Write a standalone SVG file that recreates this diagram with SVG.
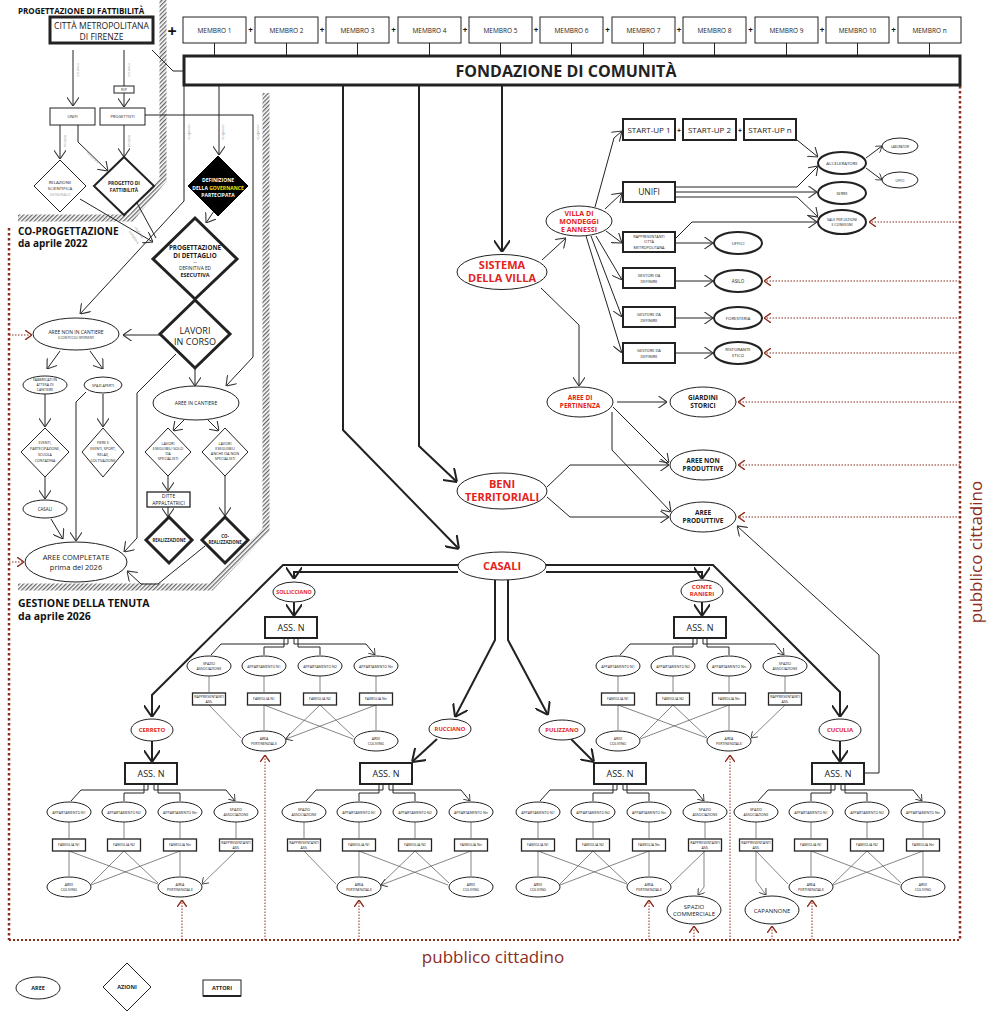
<svg xmlns="http://www.w3.org/2000/svg" width="987" height="1011" viewBox="0 0 987 1011">
<style>
.n{fill:#fff;stroke:#222;stroke-width:1}
.nb{stroke-width:2}
.nt{stroke-width:3}
.t{font-family:"Open Sans","Liberation Sans",sans-serif;text-anchor:middle;fill:#222}
.b{font-weight:bold}
.r{fill:#e3231b;font-weight:bold}
.s{font-size:3.6px}
.g{font-family:"Open Sans","Liberation Sans",sans-serif;font-size:3.6px;fill:#999;text-anchor:middle}
.c{fill:none;stroke:#222;stroke-width:1}
.c2{fill:none;stroke:#222;stroke-width:2}
.cg{fill:none;stroke:#666;stroke-width:0.8}
.rd{fill:none;stroke:#8c2d1c;stroke-width:1;stroke-dasharray:1.5 1.5}
.rb{fill:none;stroke:#8c2d1c;stroke-width:2.5;stroke-dasharray:2.5 2.5}
.h{fill:none;stroke:url(#hatch);stroke-width:7}
.hd{font-family:"Open Sans","Liberation Sans",sans-serif;font-weight:bold;fill:#111}
</style>
<defs>
<pattern id="hatch" patternUnits="userSpaceOnUse" width="3" height="3" patternTransform="rotate(45)"><rect x="0" y="0" width="1.3" height="3" fill="#666"/></pattern>
<marker id="aS" viewBox="0 0 10 14" refX="10" refY="7" markerWidth="6" markerHeight="8.4" markerUnits="userSpaceOnUse" orient="auto"><path d="M0,0 L10,7 L0,14" fill="none" stroke="#333" stroke-width="1.4"/></marker>
<marker id="aM" viewBox="0 0 10 14" refX="10" refY="7" markerWidth="9" markerHeight="12.6" markerUnits="userSpaceOnUse" orient="auto"><path d="M0,0 L10,7 L0,14" fill="none" stroke="#333" stroke-width="1.2"/></marker>
<marker id="aL" viewBox="0 0 10 14" refX="10" refY="7" markerWidth="12" markerHeight="16.8" markerUnits="userSpaceOnUse" orient="auto"><path d="M0,0 L10,7 L0,14" fill="none" stroke="#222" stroke-width="1.7"/></marker>
<marker id="aR" viewBox="0 0 10 14" refX="10" refY="7" markerWidth="7" markerHeight="9.8" markerUnits="userSpaceOnUse" orient="auto"><path d="M0,0 L10,7 L0,14" fill="none" stroke="#8c2d1c" stroke-width="2"/></marker>
</defs>
<rect width="987" height="1011" fill="#fff"/>

<g id="walls">
<path class="h" d="M163 0 V180 L131 218 H18"/>
<path class="h" d="M266 93 V530 L211 587 H18"/>
</g>

<g id="titles">
<text class="hd" x="18" y="14" font-size="8">PROGETTAZIONE DI FATTIBILITÀ</text>
<text class="hd" x="18" y="235" font-size="10">CO-PROGETTAZIONE</text>
<text class="hd" x="18" y="247" font-size="10">da aprile 2022</text>
<text class="hd" x="18" y="607" font-size="10.5">GESTIONE DELLA TENUTA</text>
<text class="hd" x="18" y="620" font-size="10.5">da aprile 2026</text>
</g>

<g id="pubblico">
<path class="rb" d="M960 86 V940"/>
<path class="rb" d="M9 228 V940"/>
<path class="rd" style="stroke-width:2;stroke-dasharray:2 2" d="M9 940 H960"/>
<text x="493" y="963" font-family="'Open Sans','Liberation Sans',sans-serif" font-size="17" fill="#8c2d1c" text-anchor="middle">pubblico cittadino</text>
<text transform="translate(982,552) rotate(-90)" font-family="'Open Sans','Liberation Sans',sans-serif" font-size="17" fill="#8c2d1c" text-anchor="middle">pubblico cittadino</text>
</g>

<g id="connectors">
<path class="c" d="M214.5 43V56M286.5 43V56M357.5 43V56M429.5 43V56M500.5 43V56M571.5 43V56M643.5 43V56M714.5 43V56M786.5 43V56M857.5 43V56M929.5 43V56"/>
<path class="c" d="M152 50 L173 71 H184"/>
<path class="c" d="M73 50 V106" marker-end="url(#aM)"/>
<path class="c" d="M124 50 V86"/>
<path class="c" d="M124 93 V107" marker-end="url(#aM)"/>
<path class="c" d="M60 125 V159" marker-end="url(#aM)"/>
<path class="c" d="M78 125 V142 L108 171" marker-end="url(#aM)"/>
<path class="c" d="M124 125 V157" marker-end="url(#aM)"/>
<path class="c" d="M145 115 H253 V357 L226 386" marker-end="url(#aM)"/>
<path class="c" d="M184 86 V201 L80 314" marker-end="url(#aM)"/>
<path class="c" d="M219 86 V155" marker-end="url(#aM)"/>
<path class="c" d="M216 208 L206 223" marker-end="url(#aM)"/>
<path class="c" d="M80 199 L153 242" marker-end="url(#aM)"/>
<path class="c" d="M137 203 L156 238"/>
<path class="c" d="M160 335 H123" marker-end="url(#aM)"/>
<path class="c" d="M195 368 V386" marker-end="url(#aM)"/>
<path class="c" d="M176 354 L137 393 V538 L124 552" marker-end="url(#aM)"/>
<path class="c" d="M60 351 L47 369" marker-end="url(#aM)"/>
<path class="c" d="M90 351 L103 369" marker-end="url(#aM)"/>
<path class="c" d="M45 394 V427" marker-end="url(#aM)"/>
<path class="c" d="M103 394 V427" marker-end="url(#aM)"/>
<path class="c" d="M86 392 L76 402 V541" marker-end="url(#aM)"/>
<path class="c" d="M45 477 V499" marker-end="url(#aM)"/>
<path class="c" d="M51 519 L63 539" marker-end="url(#aM)"/>
<path class="c" d="M184 420 L173 431" marker-end="url(#aM)"/>
<path class="c" d="M208 420 L219 431" marker-end="url(#aM)"/>
<path class="c" d="M168 476 V491" marker-end="url(#aM)"/>
<path class="c" d="M168 507 V517" marker-end="url(#aM)"/>
<path class="c" d="M225 476 V516" marker-end="url(#aM)"/>
<path class="c" d="M205 546 L158 584 H141 L127 571" marker-end="url(#aM)"/>
<path class="c2" d="M502 86 V252" marker-end="url(#aL)"/>
<path class="c2" d="M419 86 V446 L457 482" marker-end="url(#aL)"/>
<path class="c2" d="M343 86 V430 L459 549" marker-end="url(#aL)"/>
<path class="c" d="M542 260 L566 238" marker-end="url(#aM)"/>
<path class="c" d="M541 288 L579 325 V386" marker-end="url(#aM)"/>
<path class="c" d="M595 207 L614 138 L622 131" marker-end="url(#aM)"/>
<path class="c" d="M605 209 L622 193" marker-end="url(#aM)"/>
<path class="c" d="M606 231 L622 243" marker-end="url(#aM)"/>
<path class="c" d="M596 236 L622 280" marker-end="url(#aM)"/>
<path class="c" d="M591 236 L622 317" marker-end="url(#aM)"/>
<path class="c" d="M586 236 L622 353" marker-end="url(#aM)"/>
<path class="c" d="M797 140 L818 157" marker-end="url(#aM)"/>
<path class="c" d="M675 187 H797 L818 166" marker-end="url(#aM)"/>
<path class="c" d="M675 192 H817" marker-end="url(#aM)"/>
<path class="c" d="M675 197 H797 L818 217" marker-end="url(#aM)"/>
<path class="c" d="M676 238 L692 222 H817" marker-end="url(#aM)"/>
<path class="c" d="M866 158 L882 146" marker-end="url(#aS)"/>
<path class="c" d="M866 168 L882 180" marker-end="url(#aS)"/>
<path class="c" d="M675 243 H713" marker-end="url(#aM)"/>
<path class="c" d="M675 281 H713" marker-end="url(#aM)"/>
<path class="c" d="M675 318 H713" marker-end="url(#aM)"/>
<path class="c" d="M675 353 H713" marker-end="url(#aM)"/>
<path class="c" d="M617 402 H667" marker-end="url(#aM)"/>
<path class="c" d="M613 407 L669 463" marker-end="url(#aM)"/>
<path class="c" d="M612 412 V450 L671 512" marker-end="url(#aM)"/>
<path class="c" d="M547 487 L570 465 H669" marker-end="url(#aM)"/>
<path class="c" d="M547 497 L570 517 H669" marker-end="url(#aM)"/>
<path class="c2" d="M458 565 H283 L152 695 V717" marker-end="url(#aL)"/>
<path class="c2" d="M458 572 H294 V579" marker-end="url(#aL)"/>
<path class="c2" d="M546 565 H713 L840 692 V717" marker-end="url(#aL)"/>
<path class="c2" d="M546 572 H702 V579" marker-end="url(#aL)"/>
<path class="c2" d="M495 580 V640 L455 717" marker-end="url(#aL)"/>
<path class="c2" d="M508 580 V640 L548 715" marker-end="url(#aL)"/>
<path class="c2" d="M294 602 V616" marker-end="url(#aL)"/>
<path class="c2" d="M702 602 V616" marker-end="url(#aL)"/>
<path class="c2" d="M152 741 V762" marker-end="url(#aL)"/>
<path class="c2" d="M840 741 V762" marker-end="url(#aL)"/>
<path class="c2" d="M437 739 L412 762" marker-end="url(#aL)"/>
<path class="c2" d="M571 739 L594 762" marker-end="url(#aL)"/>
<path class="c" d="M864 773 H879 V655 L737 526" marker-end="url(#aM)"/>
<path class="rd" d="M960 222 H869" marker-end="url(#aR)"/>
<path class="rd" d="M960 281 H764" marker-end="url(#aR)"/>
<path class="rd" d="M960 318 H764" marker-end="url(#aR)"/>
<path class="rd" d="M960 353 H764" marker-end="url(#aR)"/>
<path class="rd" d="M960 402 H738" marker-end="url(#aR)"/>
<path class="rd" d="M960 465 H738" marker-end="url(#aR)"/>
<path class="rd" d="M960 517 H738" marker-end="url(#aR)"/>
<path class="rd" d="M9 335 H32" marker-end="url(#aR)"/>
<path class="rd" d="M9 562 H24" marker-end="url(#aR)"/>
<path class="rd" d="M265 940 V755" marker-end="url(#aR)"/>
<path class="rd" d="M730 940 V755" marker-end="url(#aR)"/>
<path class="rd" d="M182 940 V900" marker-end="url(#aR)"/>
<path class="rd" d="M359 940 V900" marker-end="url(#aR)"/>
<path class="rd" d="M649 940 V900" marker-end="url(#aR)"/>
<path class="rd" d="M694 940 V926" marker-end="url(#aR)"/>
<path class="rd" d="M772 940 V926" marker-end="url(#aR)"/>
<path class="rd" d="M812 940 V900" marker-end="url(#aR)"/>
<text class="g" transform="translate(77,70) rotate(90)">incarica</text>
<text class="g" transform="translate(128,70) rotate(90)">incarica</text>
<text class="g" transform="translate(64,141) rotate(90)">realizza</text>
<text class="g" transform="translate(128,141) rotate(90)">realizza</text>
<text class="g" transform="translate(92,158) rotate(44)">collabora</text>
<text class="g" transform="translate(188,132) rotate(90)">coordina</text>
<text class="g" transform="translate(222,132) rotate(90)">coordina</text>
<text class="g" transform="translate(257,132) rotate(90)">coordina</text>
<text class="g" transform="translate(138,233) rotate(55)">realizza</text>
<text class="g" transform="translate(133,238) rotate(55)">collabora</text>
</g>

<g id="citta"><rect class="n nt" x="50" y="17" width="103" height="26"/><text class="t" x="101.5" y="29" font-size="8.6">CITTÀ METROPOLITANA</text><text class="t" x="101.5" y="40" font-size="8.6">DI FIRENZE</text></g>
<text class="hd" x="172" y="37" font-size="16" text-anchor="middle">+</text>
<g id="membri">
<g id="m1"><rect class="n" x="183" y="17" width="63" height="26"/><text class="t" x="214.5" y="32.5" font-size="6.5">MEMBRO 1</text></g>
<g id="m2"><rect class="n" x="255" y="17" width="63" height="26"/><text class="t" x="286.5" y="32.5" font-size="6.5">MEMBRO 2</text></g>
<g id="m3"><rect class="n" x="326" y="17" width="63" height="26"/><text class="t" x="357.5" y="32.5" font-size="6.5">MEMBRO 3</text></g>
<g id="m4"><rect class="n" x="398" y="17" width="63" height="26"/><text class="t" x="429.5" y="32.5" font-size="6.5">MEMBRO 4</text></g>
<g id="m5"><rect class="n" x="469" y="17" width="63" height="26"/><text class="t" x="500.5" y="32.5" font-size="6.5">MEMBRO 5</text></g>
<g id="m6"><rect class="n" x="540" y="17" width="63" height="26"/><text class="t" x="571.5" y="32.5" font-size="6.5">MEMBRO 6</text></g>
<g id="m7"><rect class="n" x="612" y="17" width="63" height="26"/><text class="t" x="643.5" y="32.5" font-size="6.5">MEMBRO 7</text></g>
<g id="m8"><rect class="n" x="683" y="17" width="63" height="26"/><text class="t" x="714.5" y="32.5" font-size="6.5">MEMBRO 8</text></g>
<g id="m9"><rect class="n" x="755" y="17" width="63" height="26"/><text class="t" x="786.5" y="32.5" font-size="6.5">MEMBRO 9</text></g>
<g id="m10"><rect class="n" x="826" y="17" width="63" height="26"/><text class="t" x="857.5" y="32.5" font-size="6.5">MEMBRO 10</text></g>
<g id="mn"><rect class="n" x="898" y="17" width="63" height="26"/><text class="t" x="929.5" y="32.5" font-size="6.5">MEMBRO n</text></g>
<g class="hd" font-size="8" text-anchor="middle"><text x="250.5" y="33">+</text><text x="322" y="33">+</text><text x="393.5" y="33">+</text><text x="465" y="33">+</text><text x="536" y="33">+</text><text x="607.5" y="33">+</text><text x="679" y="33">+</text><text x="750.5" y="33">+</text><text x="822" y="33">+</text><text x="893.5" y="33">+</text></g>
</g>
<g id="fondazione"><rect class="n nt" x="184" y="56" width="776" height="29"/><text class="t b" x="566" y="77" font-size="16">FONDAZIONE DI COMUNITÀ</text></g>

<g id="rup"><rect class="n" x="114" y="86" width="20" height="7"/><text class="t" x="124" y="91" font-size="3">RUP</text></g>
<g id="unifi1"><rect class="n" x="50" y="108" width="45" height="17"/><text class="t" x="72.5" y="118" font-size="4">UNIFI</text></g>
<g id="progettisti"><rect class="n" x="100" y="108" width="45" height="17"/><text class="t" x="122.5" y="118" font-size="4">PROGETTISTI</text></g>
<g id="relazione"><path class="n" d="M60 160 L86 186 L60 212 L34 186Z"/><text class="t" x="60" y="184" font-size="4.3">RELAZIONE</text><text class="t" x="60" y="190" font-size="4.3">SCIENTIFICA</text><text class="t" x="60" y="196" font-size="4.3" style="fill:#aaa">GENERALE</text></g>
<g id="progetto"><path class="n nb" d="M124 157 L154 186 L124 215 L94 186Z"/><text class="t b" x="124" y="185" font-size="4.8">PROGETTO DI</text><text class="t b" x="124" y="192" font-size="4.8">FATTIBILITÀ</text></g>
<g id="governance"><path d="M218 156 L248 186 L218 216 L188 186Z" fill="#000" stroke="#000"/><text class="t b" x="218" y="182" font-size="5" style="fill:#fff">DEFINIZIONE</text><text class="t b" x="218" y="189.5" font-size="5" style="fill:#fff">DELLA <tspan style="fill:#f2e600">GOVERNANCE</tspan></text><text class="t b" x="218" y="196.5" font-size="5" style="fill:#fff">PARTECIPATA</text></g>
<g id="dettaglio"><path class="n nt" d="M195 218 L237 259 L195 299 L153 259Z"/><text class="t b" x="195" y="250" font-size="6.3">PROGETTAZIONE</text><text class="t b" x="195" y="258" font-size="6.3">DI DETTAGLIO</text><text class="t" x="195" y="263" font-size="4">—</text><text class="t" x="195" y="270" font-size="4.8">DEFINITIVA ED</text><text class="t b" x="195" y="277" font-size="5.5">ESECUTIVA</text></g>
<g id="lavori"><path class="n nt" d="M195 300 L230 334 L195 368 L160 334Z"/><text class="t" x="195" y="334" font-size="9">LAVORI</text><text class="t" x="195" y="345" font-size="9">IN CORSO</text></g>
<g id="areenon"><ellipse class="n" cx="76" cy="334" rx="43" ry="16"/><text class="t" x="76" y="334" font-size="5">AREE NON IN CANTIERE</text><text class="t" x="76" y="339" font-size="2.8">O CON PICCOLI INTERVENTI</text></g>
<g id="fabbricati"><ellipse class="n" cx="45" cy="385" rx="22" ry="9"/><text class="t" x="45" y="381" font-size="3.6">FABBRICATI IN</text><text class="t" x="45" y="386" font-size="3.6">ATTESA DI</text><text class="t" x="45" y="391" font-size="3.6">CANTIERE</text></g>
<g id="spaziaperti"><ellipse class="n" cx="103" cy="385" rx="19" ry="8"/><text class="t" x="103" y="387" font-size="3.6">SPAZI APERTI</text></g>
<g id="eventi"><path class="n" d="M45 428 L69 452 L45 477 L21 452Z"/><text class="t" x="45" y="444" font-size="3.6">EVENTI,</text><text class="t" x="45" y="450" font-size="3.6">PARTECIPAZIONE,</text><text class="t" x="45" y="456" font-size="3.6">SCUOLA</text><text class="t" x="45" y="462" font-size="3.6">CONTADINA</text></g>
<g id="fiere"><path class="n" d="M103 428 L124 452 L103 477 L82 452Z"/><text class="t" x="103" y="444" font-size="3.6">FIERE E</text><text class="t" x="103" y="450" font-size="3.6">EVENTI, SPORT,</text><text class="t" x="103" y="456" font-size="3.6">RELAX,</text><text class="t" x="103" y="462" font-size="3.6">COLTIVAZIONE</text></g>
<g id="casali-l"><ellipse class="n" cx="45" cy="509" rx="22" ry="9"/><text class="t" x="45" y="511" font-size="4.5">CASALI</text></g>
<g id="completate"><ellipse class="n" cx="76" cy="562" rx="51" ry="20"/><text class="t" x="76" y="560" font-size="7.5">AREE COMPLETATE</text><text class="t" x="76" y="570" font-size="7.5">prima del 2026</text></g>
<g id="areecantiere"><ellipse class="n" cx="196" cy="403" rx="43" ry="17"/><text class="t" x="196" y="405" font-size="5">AREE IN CANTIERE</text></g>
<g id="specialisti"><path class="n" d="M168 428 L191 452 L168 476 L145 452Z"/><text class="t" x="168" y="445" font-size="3.8">LAVORI</text><text class="t" x="168" y="450" font-size="3.8">ESEGUIBILI SOLO</text><text class="t" x="168" y="455" font-size="3.8">DA</text><text class="t" x="168" y="460" font-size="3.8">SPECIALISTI</text></g>
<g id="nonspecialisti"><path class="n" d="M225 428 L248 452 L225 476 L202 452Z"/><text class="t" x="225" y="445" font-size="3.8">LAVORI</text><text class="t" x="225" y="450" font-size="3.8">ESEGUIBILI</text><text class="t" x="225" y="455" font-size="3.8">ANCHE DA NON</text><text class="t" x="225" y="460" font-size="3.8">SPECIALISTI</text></g>
<g id="ditte"><rect class="n" x="147" y="492" width="43" height="15" style="stroke-width:1.3"/><text class="t" x="168.5" y="498" font-size="5">DITTE</text><text class="t" x="168.5" y="505" font-size="5">APPALTATRICI</text></g>
<g id="realizzazione"><path class="n nt" d="M169 517 L192 540 L169 563 L146 540Z"/><text class="t b" x="169" y="542" font-size="4.3">REALIZZAZIONE</text></g>
<g id="corealizzazione"><path class="n nt" d="M225 517 L248 540 L225 563 L202 540Z"/><text class="t b" x="225" y="538" font-size="4.3">CO-</text><text class="t b" x="225" y="544" font-size="4.3">REALIZZAZIONE</text></g>

<g id="sistema"><ellipse class="n" cx="502" cy="272" rx="45" ry="17.5"/><text class="t r" x="502" y="269" font-size="11">SISTEMA</text><text class="t r" x="502" y="282" font-size="11">DELLA VILLA</text></g>
<g id="villa"><ellipse class="n" cx="579" cy="221" rx="33" ry="15"/><text class="t r" x="579" y="216" font-size="7">VILLA DI</text><text class="t r" x="579" y="224" font-size="7">MONDEGGI</text><text class="t r" x="579" y="232" font-size="7">E ANNESSI</text></g>
<g id="su1"><rect class="n nb" x="623" y="119" width="52" height="21"/><text class="t" x="649" y="133" font-size="8">START-UP 1</text></g>
<g id="su2"><rect class="n nb" x="683" y="119" width="53" height="21"/><text class="t" x="709.5" y="133" font-size="8">START-UP 2</text></g>
<g id="sun"><rect class="n nb" x="744" y="119" width="52" height="21"/><text class="t" x="770" y="133" font-size="8">START-UP n</text></g>
<g class="hd" font-size="7" text-anchor="middle"><text x="679" y="133">+</text><text x="740" y="133">+</text></g>
<g id="unifi2"><rect class="n nb" x="623" y="182" width="52" height="20"/><text class="t" x="649" y="195" font-size="8.5">UNIFI</text></g>
<g id="rappcm"><rect class="n nb" x="623" y="232" width="52" height="20"/><text class="t" x="649" y="238" font-size="3.8">RAPPRESENTANTI</text><text class="t" x="649" y="243" font-size="3.8">CITTÀ</text><text class="t" x="649" y="249" font-size="3.8">METROPOLITANA</text></g>
<g id="gestori"><rect class="n nb" x="623" y="268" width="52" height="20"/><text class="t" x="649" y="277" font-size="4">GESTORI DA</text><text class="t" x="649" y="283" font-size="4">DEFINIRE</text></g>
<g id="gestore1"><rect class="n nb" x="623" y="307" width="52" height="20"/><text class="t" x="649" y="316" font-size="4">GESTORE DA</text><text class="t" x="649" y="322" font-size="4">DEFINIRE</text></g>
<g id="gestore2"><rect class="n nb" x="623" y="343" width="52" height="20"/><text class="t" x="649" y="352" font-size="4">GESTORE DA</text><text class="t" x="649" y="358" font-size="4">DEFINIRE</text></g>
<g id="acceleratore"><ellipse class="n nb" cx="842" cy="163" rx="24" ry="11"/><text class="t" x="842" y="165" font-size="4.3">ACCELERATORE</text></g>
<g id="laboratori"><ellipse class="n" cx="900" cy="146" rx="18" ry="8"/><text class="t" x="900" y="147.5" font-size="3">LABORATORI</text></g>
<g id="uffici-acc"><ellipse class="n" cx="900" cy="180" rx="18" ry="8"/><text class="t" x="900" y="181.5" font-size="3">UFFICI</text></g>
<g id="serre"><ellipse class="n nb" cx="842" cy="193" rx="24" ry="11"/><text class="t" x="842" y="195" font-size="3.8">SERRE</text></g>
<g id="sale"><ellipse class="n nb" cx="842" cy="222" rx="24" ry="12"/><text class="t" x="842" y="221" font-size="3.6">SALE PER LEZIONI</text><text class="t" x="842" y="226" font-size="3.6">E CONVEGNI</text></g>
<g id="uffici"><ellipse class="n nb" cx="738" cy="243" rx="24" ry="11"/><text class="t" x="738" y="245" font-size="4.3">UFFICI</text></g>
<g id="asilo"><ellipse class="n nb" cx="738" cy="281" rx="24" ry="11"/><text class="t" x="738" y="283" font-size="4.5">ASILO</text></g>
<g id="foresteria"><ellipse class="n nb" cx="738" cy="318" rx="24" ry="11"/><text class="t" x="738" y="320" font-size="4.3">FORESTERIA</text></g>
<g id="ristorante"><ellipse class="n nb" cx="738" cy="353" rx="24" ry="11"/><text class="t" x="738" y="351" font-size="4.3">RISTORANTE</text><text class="t" x="738" y="357" font-size="4.3">ETICO</text></g>
<g id="pertinenza"><ellipse class="n" cx="580" cy="402" rx="33" ry="15"/><text class="t r" x="580" y="400" font-size="6.5">AREE DI</text><text class="t r" x="580" y="408" font-size="6.5">PERTINENZA</text></g>
<g id="giardini"><ellipse class="n" cx="703" cy="402" rx="33" ry="15"/><text class="t b" x="703" y="400" font-size="6.5">GIARDINI</text><text class="t b" x="703" y="408" font-size="6.5">STORICI</text></g>
<g id="nonproduttive"><ellipse class="n" cx="703" cy="465" rx="33" ry="15"/><text class="t b" x="703" y="463" font-size="6.5">AREE NON</text><text class="t b" x="703" y="471" font-size="6.5">PRODUTTIVE</text></g>
<g id="produttive"><ellipse class="n" cx="703" cy="517" rx="33" ry="15"/><text class="t b" x="703" y="515" font-size="6.5">AREE</text><text class="t b" x="703" y="523" font-size="6.5">PRODUTTIVE</text></g>
<g id="beni"><ellipse class="n" cx="502" cy="491" rx="45" ry="18"/><text class="t r" x="502" y="488" font-size="11">BENI</text><text class="t r" x="502" y="501" font-size="11">TERRITORIALI</text></g>
<g id="casali"><ellipse class="n" cx="502" cy="566" rx="44" ry="14"/><text class="t r" x="502" y="570" font-size="11">CASALI</text></g>
<g id="sollicciano"><ellipse class="n" cx="294" cy="592" rx="21" ry="10"/><text class="t r" x="294" y="594" font-size="5.3">SOLLICCIANO</text></g>
<g id="conteranieri"><ellipse class="n" cx="702" cy="591" rx="21" ry="11"/><text class="t r" x="702" y="589" font-size="6">CONTE</text><text class="t r" x="702" y="596" font-size="6">RANIERI</text></g>
<g id="cerreto"><ellipse class="n" cx="152" cy="730" rx="21" ry="11"/><text class="t r" x="152" y="732" font-size="6">CERRETO</text></g>
<g id="rucciano"><ellipse class="n" cx="450" cy="729" rx="21" ry="10"/><text class="t r" x="450" y="731" font-size="5.8">RUCCIANO</text></g>
<g id="pulizzano"><ellipse class="n" cx="562" cy="730" rx="23" ry="10"/><text class="t r" x="562" y="732" font-size="5.8">PULIZZANO</text></g>
<g id="cuculia"><ellipse class="n" cx="840" cy="730" rx="21" ry="11"/><text class="t r" x="840" y="732" font-size="6">CUCULIA</text></g>

<g id="cl-sollicciano" transform="translate(291,617)">
<g id="sol-conn"><path class="c" d="M-3 21V27H-70L-80 38M-7 21V30H-27V38M7 21V30H29V38M3 21V27H75L84 38" marker-end="url(#aS)"/>
<path class="cg" d="M-82 59V75M-27 59V75M29 59V75M85 59V75M-82 88L-50 121M-27 88V113M-27 88L62 122M29 88L-5 121M29 88L63 120M85 88V113M85 88L-5 122" marker-end="url(#aS)"/></g>
<g id="sol-ass"><rect class="n nb" x="-26" y="0" width="52" height="21"/><text class="t" x="0" y="14" font-size="9">ASS. N</text></g>
<g id="sol-c1"><ellipse class="n" cx="-82" cy="49" rx="22" ry="10"/><text class="t s" x="-82" y="48">SPAZIO</text><text class="t s" x="-82" y="52.5">ASSOCIAZIONE</text></g>
<g id="sol-c2"><ellipse class="n" cx="-27" cy="49" rx="22" ry="10"/><text class="t s" x="-27" y="50.5">APPARTAMENTO N1</text></g>
<g id="sol-c3"><ellipse class="n" cx="29" cy="49" rx="22" ry="10"/><text class="t s" x="29" y="50.5">APPARTAMENTO N2</text></g>
<g id="sol-c4"><ellipse class="n" cx="85" cy="49" rx="22" ry="10"/><text class="t s" x="85" y="50.5">APPARTAMENTO Nn</text></g>
<g id="sol-b1"><rect class="n" x="-98.5" y="76" width="33" height="12" style="stroke-width:1.3"/><text class="t s" x="-82" y="81">RAPPRESENTANTI</text><text class="t s" x="-82" y="85.5">ASS.</text></g>
<g id="sol-b2"><rect class="n" x="-43.5" y="76" width="33" height="12" style="stroke-width:1.3"/><text class="t s" x="-27" y="83">FAMIGLIA N1</text></g>
<g id="sol-b3"><rect class="n" x="12.5" y="76" width="33" height="12" style="stroke-width:1.3"/><text class="t s" x="29" y="83">FAMIGLIA N2</text></g>
<g id="sol-b4"><rect class="n" x="68.5" y="76" width="33" height="12" style="stroke-width:1.3"/><text class="t s" x="85" y="83">FAMIGLIA Nn</text></g>
<g id="sol-ap"><ellipse class="n" cx="-27" cy="124" rx="22" ry="10"/><text class="t s" x="-27" y="123">AREA</text><text class="t s" x="-27" y="127.5">PERTINENZIALE</text></g>
<g id="sol-co"><ellipse class="n" cx="85" cy="124" rx="22" ry="10"/><text class="t s" x="85" y="123">AREE</text><text class="t s" x="85" y="127.5">COLIVING</text></g>
</g>

<g id="cl-rucciano" transform="translate(386,763)">
<g id="ruc-conn"><path class="c" d="M-3 21V27H-70L-80 38M-7 21V30H-27V38M7 21V30H29V38M3 21V27H75L84 38" marker-end="url(#aS)"/>
<path class="cg" d="M-82 59V75M-27 59V75M29 59V75M85 59V75M-82 88L-50 121M-27 88V113M-27 88L62 122M29 88L-5 121M29 88L63 120M85 88V113M85 88L-5 122" marker-end="url(#aS)"/></g>
<g id="ruc-ass"><rect class="n nb" x="-26" y="0" width="52" height="21"/><text class="t" x="0" y="14" font-size="9">ASS. N</text></g>
<g id="ruc-c1"><ellipse class="n" cx="-82" cy="49" rx="22" ry="10"/><text class="t s" x="-82" y="48">SPAZIO</text><text class="t s" x="-82" y="52.5">ASSOCIAZIONE</text></g>
<g id="ruc-c2"><ellipse class="n" cx="-27" cy="49" rx="22" ry="10"/><text class="t s" x="-27" y="50.5">APPARTAMENTO N1</text></g>
<g id="ruc-c3"><ellipse class="n" cx="29" cy="49" rx="22" ry="10"/><text class="t s" x="29" y="50.5">APPARTAMENTO N2</text></g>
<g id="ruc-c4"><ellipse class="n" cx="85" cy="49" rx="22" ry="10"/><text class="t s" x="85" y="50.5">APPARTAMENTO Nn</text></g>
<g id="ruc-b1"><rect class="n" x="-98.5" y="76" width="33" height="12" style="stroke-width:1.3"/><text class="t s" x="-82" y="81">RAPPRESENTANTI</text><text class="t s" x="-82" y="85.5">ASS.</text></g>
<g id="ruc-b2"><rect class="n" x="-43.5" y="76" width="33" height="12" style="stroke-width:1.3"/><text class="t s" x="-27" y="83">FAMIGLIA N1</text></g>
<g id="ruc-b3"><rect class="n" x="12.5" y="76" width="33" height="12" style="stroke-width:1.3"/><text class="t s" x="29" y="83">FAMIGLIA N2</text></g>
<g id="ruc-b4"><rect class="n" x="68.5" y="76" width="33" height="12" style="stroke-width:1.3"/><text class="t s" x="85" y="83">FAMIGLIA Nn</text></g>
<g id="ruc-ap"><ellipse class="n" cx="-27" cy="124" rx="22" ry="10"/><text class="t s" x="-27" y="123">AREA</text><text class="t s" x="-27" y="127.5">PERTINENZIALE</text></g>
<g id="ruc-co"><ellipse class="n" cx="85" cy="124" rx="22" ry="10"/><text class="t s" x="85" y="123">AREE</text><text class="t s" x="85" y="127.5">COLIVING</text></g>
</g>

<g id="cl-cuculia" transform="translate(838,763)">
<g id="cuc-conn"><path class="c" d="M-3 21V27H-70L-80 38M-7 21V30H-27V38M7 21V30H29V38M3 21V27H75L84 38" marker-end="url(#aS)"/>
<path class="cg" d="M-82 59V75M-27 59V75M29 59V75M85 59V75M-82 88L-50 121M-27 88V113M-27 88L62 122M29 88L-5 121M29 88L63 120M85 88V113M85 88L-5 122M-82 88V118L-72 132" marker-end="url(#aS)"/></g>
<g id="cuc-ass"><rect class="n nb" x="-26" y="0" width="52" height="21"/><text class="t" x="0" y="14" font-size="9">ASS. N</text></g>
<g id="cuc-c1"><ellipse class="n" cx="-82" cy="49" rx="22" ry="10"/><text class="t s" x="-82" y="48">SPAZIO</text><text class="t s" x="-82" y="52.5">ASSOCIAZIONE</text></g>
<g id="cuc-c2"><ellipse class="n" cx="-27" cy="49" rx="22" ry="10"/><text class="t s" x="-27" y="50.5">APPARTAMENTO N1</text></g>
<g id="cuc-c3"><ellipse class="n" cx="29" cy="49" rx="22" ry="10"/><text class="t s" x="29" y="50.5">APPARTAMENTO N2</text></g>
<g id="cuc-c4"><ellipse class="n" cx="85" cy="49" rx="22" ry="10"/><text class="t s" x="85" y="50.5">APPARTAMENTO Nn</text></g>
<g id="cuc-b1"><rect class="n" x="-98.5" y="76" width="33" height="12" style="stroke-width:1.3"/><text class="t s" x="-82" y="81">RAPPRESENTANTI</text><text class="t s" x="-82" y="85.5">ASS.</text></g>
<g id="cuc-b2"><rect class="n" x="-43.5" y="76" width="33" height="12" style="stroke-width:1.3"/><text class="t s" x="-27" y="83">FAMIGLIA N1</text></g>
<g id="cuc-b3"><rect class="n" x="12.5" y="76" width="33" height="12" style="stroke-width:1.3"/><text class="t s" x="29" y="83">FAMIGLIA N2</text></g>
<g id="cuc-b4"><rect class="n" x="68.5" y="76" width="33" height="12" style="stroke-width:1.3"/><text class="t s" x="85" y="83">FAMIGLIA Nn</text></g>
<g id="cuc-ap"><ellipse class="n" cx="-27" cy="124" rx="22" ry="10"/><text class="t s" x="-27" y="123">AREA</text><text class="t s" x="-27" y="127.5">PERTINENZIALE</text></g>
<g id="cuc-co"><ellipse class="n" cx="85" cy="124" rx="22" ry="10"/><text class="t s" x="85" y="123">AREE</text><text class="t s" x="85" y="127.5">COLIVING</text></g>
<g id="capannone"><ellipse class="n" cx="-66" cy="147" rx="27" ry="14"/><text class="t" x="-66" y="149.5" font-size="6">CAPANNONE</text></g>
</g>

<g id="cl-conteranieri" transform="translate(700,617)">
<g id="cr-conn"><path class="c" d="M-3 21V27H-70L-80 38M-7 21V30H-27V38M7 21V30H29V38M3 21V27H75L84 38" marker-end="url(#aS)"/>
<path class="cg" d="M-82 59V75M-27 59V75M29 59V75M85 59V75M-82 88V113M-82 88L7 121M-27 88L-60 121M-27 88L7 120M29 88V113M29 88L-60 122M85 88L51 121" marker-end="url(#aS)"/></g>
<g id="cr-ass"><rect class="n nb" x="-26" y="0" width="52" height="21"/><text class="t" x="0" y="14" font-size="9">ASS. N</text></g>
<g id="cr-c1"><ellipse class="n" cx="-82" cy="49" rx="22" ry="10"/><text class="t s" x="-82" y="50.5">APPARTAMENTO N1</text></g>
<g id="cr-c2"><ellipse class="n" cx="-27" cy="49" rx="22" ry="10"/><text class="t s" x="-27" y="50.5">APPARTAMENTO N2</text></g>
<g id="cr-c3"><ellipse class="n" cx="29" cy="49" rx="22" ry="10"/><text class="t s" x="29" y="50.5">APPARTAMENTO Nn</text></g>
<g id="cr-c4"><ellipse class="n" cx="85" cy="49" rx="22" ry="10"/><text class="t s" x="85" y="48">SPAZIO</text><text class="t s" x="85" y="52.5">ASSOCIAZIONE</text></g>
<g id="cr-b1"><rect class="n" x="-98.5" y="76" width="33" height="12" style="stroke-width:1.3"/><text class="t s" x="-82" y="83">FAMIGLIA N1</text></g>
<g id="cr-b2"><rect class="n" x="-43.5" y="76" width="33" height="12" style="stroke-width:1.3"/><text class="t s" x="-27" y="83">FAMIGLIA N2</text></g>
<g id="cr-b3"><rect class="n" x="12.5" y="76" width="33" height="12" style="stroke-width:1.3"/><text class="t s" x="29" y="83">FAMIGLIA Nn</text></g>
<g id="cr-b4"><rect class="n" x="68.5" y="76" width="33" height="12" style="stroke-width:1.3"/><text class="t s" x="85" y="81">RAPPRESENTANTI</text><text class="t s" x="85" y="85.5">ASS.</text></g>
<g id="cr-co"><ellipse class="n" cx="-82" cy="124" rx="22" ry="10"/><text class="t s" x="-82" y="123">AREE</text><text class="t s" x="-82" y="127.5">COLIVING</text></g>
<g id="cr-ap"><ellipse class="n" cx="29" cy="124" rx="22" ry="10"/><text class="t s" x="29" y="123">AREA</text><text class="t s" x="29" y="127.5">PERTINENZIALE</text></g>
</g>

<g id="cl-cerreto" transform="translate(151,763)">
<g id="ce-conn"><path class="c" d="M-3 21V27H-70L-80 38M-7 21V30H-27V38M7 21V30H29V38M3 21V27H75L84 38" marker-end="url(#aS)"/>
<path class="cg" d="M-82 59V75M-27 59V75M29 59V75M85 59V75M-82 88V113M-82 88L7 121M-27 88L-60 121M-27 88L7 120M29 88V113M29 88L-60 122M85 88L51 121" marker-end="url(#aS)"/></g>
<g id="ce-ass"><rect class="n nb" x="-26" y="0" width="52" height="21"/><text class="t" x="0" y="14" font-size="9">ASS. N</text></g>
<g id="ce-c1"><ellipse class="n" cx="-82" cy="49" rx="22" ry="10"/><text class="t s" x="-82" y="50.5">APPARTAMENTO N1</text></g>
<g id="ce-c2"><ellipse class="n" cx="-27" cy="49" rx="22" ry="10"/><text class="t s" x="-27" y="50.5">APPARTAMENTO N2</text></g>
<g id="ce-c3"><ellipse class="n" cx="29" cy="49" rx="22" ry="10"/><text class="t s" x="29" y="50.5">APPARTAMENTO Nn</text></g>
<g id="ce-c4"><ellipse class="n" cx="85" cy="49" rx="22" ry="10"/><text class="t s" x="85" y="48">SPAZIO</text><text class="t s" x="85" y="52.5">ASSOCIAZIONE</text></g>
<g id="ce-b1"><rect class="n" x="-98.5" y="76" width="33" height="12" style="stroke-width:1.3"/><text class="t s" x="-82" y="83">FAMIGLIA N1</text></g>
<g id="ce-b2"><rect class="n" x="-43.5" y="76" width="33" height="12" style="stroke-width:1.3"/><text class="t s" x="-27" y="83">FAMIGLIA N2</text></g>
<g id="ce-b3"><rect class="n" x="12.5" y="76" width="33" height="12" style="stroke-width:1.3"/><text class="t s" x="29" y="83">FAMIGLIA Nn</text></g>
<g id="ce-b4"><rect class="n" x="68.5" y="76" width="33" height="12" style="stroke-width:1.3"/><text class="t s" x="85" y="81">RAPPRESENTANTI</text><text class="t s" x="85" y="85.5">ASS.</text></g>
<g id="ce-co"><ellipse class="n" cx="-82" cy="124" rx="22" ry="10"/><text class="t s" x="-82" y="123">AREE</text><text class="t s" x="-82" y="127.5">COLIVING</text></g>
<g id="ce-ap"><ellipse class="n" cx="29" cy="124" rx="22" ry="10"/><text class="t s" x="29" y="123">AREA</text><text class="t s" x="29" y="127.5">PERTINENZIALE</text></g>
</g>

<g id="cl-pulizzano" transform="translate(620,763)">
<g id="pu-conn"><path class="c" d="M-3 21V27H-70L-80 38M-7 21V30H-27V38M7 21V30H29V38M3 21V27H75L84 38" marker-end="url(#aS)"/>
<path class="cg" d="M-82 59V75M-27 59V75M29 59V75M85 59V75M-82 88V113M-82 88L7 121M-27 88L-60 121M-27 88L7 120M29 88V113M29 88L-60 122M85 88L51 121M84 88V124L78 132" marker-end="url(#aS)"/></g>
<g id="pu-ass"><rect class="n nb" x="-26" y="0" width="52" height="21"/><text class="t" x="0" y="14" font-size="9">ASS. N</text></g>
<g id="pu-c1"><ellipse class="n" cx="-82" cy="49" rx="22" ry="10"/><text class="t s" x="-82" y="50.5">APPARTAMENTO N1</text></g>
<g id="pu-c2"><ellipse class="n" cx="-27" cy="49" rx="22" ry="10"/><text class="t s" x="-27" y="50.5">APPARTAMENTO N2</text></g>
<g id="pu-c3"><ellipse class="n" cx="29" cy="49" rx="22" ry="10"/><text class="t s" x="29" y="50.5">APPARTAMENTO Nn</text></g>
<g id="pu-c4"><ellipse class="n" cx="85" cy="49" rx="22" ry="10"/><text class="t s" x="85" y="48">SPAZIO</text><text class="t s" x="85" y="52.5">ASSOCIAZIONE</text></g>
<g id="pu-b1"><rect class="n" x="-98.5" y="76" width="33" height="12" style="stroke-width:1.3"/><text class="t s" x="-82" y="83">FAMIGLIA N1</text></g>
<g id="pu-b2"><rect class="n" x="-43.5" y="76" width="33" height="12" style="stroke-width:1.3"/><text class="t s" x="-27" y="83">FAMIGLIA N2</text></g>
<g id="pu-b3"><rect class="n" x="12.5" y="76" width="33" height="12" style="stroke-width:1.3"/><text class="t s" x="29" y="83">FAMIGLIA Nn</text></g>
<g id="pu-b4"><rect class="n" x="68.5" y="76" width="33" height="12" style="stroke-width:1.3"/><text class="t s" x="85" y="81">RAPPRESENTANTI</text><text class="t s" x="85" y="85.5">ASS.</text></g>
<g id="pu-co"><ellipse class="n" cx="-82" cy="124" rx="22" ry="10"/><text class="t s" x="-82" y="123">AREE</text><text class="t s" x="-82" y="127.5">COLIVING</text></g>
<g id="pu-ap"><ellipse class="n" cx="29" cy="124" rx="22" ry="10"/><text class="t s" x="29" y="123">AREA</text><text class="t s" x="29" y="127.5">PERTINENZIALE</text></g>
<g id="spaziocomm"><ellipse class="n" cx="74" cy="147" rx="27" ry="14"/><text class="t" x="74" y="146" font-size="6">SPAZIO</text><text class="t" x="74" y="153" font-size="6">COMMERCIALE</text></g>
</g>

<g id="legend">
<g id="lg-aree"><ellipse class="n" cx="38" cy="988" rx="22" ry="11"/><text class="t b" x="38" y="990" font-size="5.5">AREE</text></g>
<g id="lg-azioni"><path class="n" d="M127 963 L151 987 L127 1011 L103 987Z"/><text class="t b" x="127" y="989" font-size="5.5">AZIONI</text></g>
<g id="lg-attori"><rect class="n" x="203" y="980" width="38" height="16"/><path d="M203 996 H241" stroke="#222" stroke-width="2"/><text class="t b" x="222" y="990" font-size="5.5">ATTORI</text></g>
</g>
</svg>
